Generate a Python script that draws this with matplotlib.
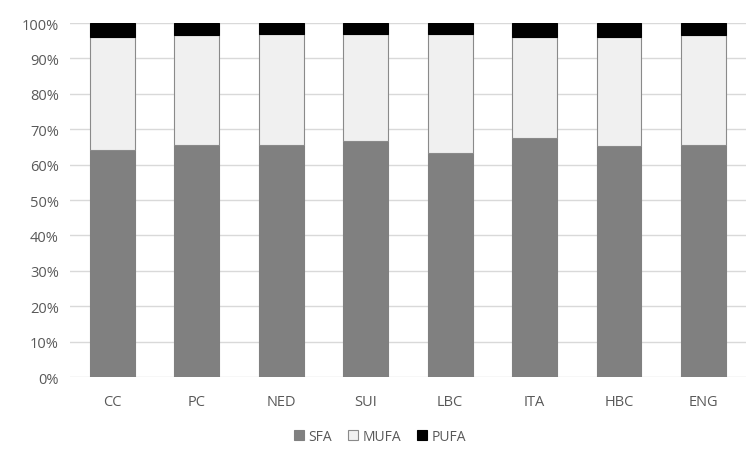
import numpy as np
from matplotlib import pyplot as plt
from matplotlib.ticker import PercentFormatter

categories = ["CC", "PC", "NED", "SUI", "LBC", "ITA", "HBC", "ENG"]
sfa = [64.1, 65.5, 65.5, 66.6, 63.3, 67.4, 65.2, 65.5]
pufa = [4.0, 3.5, 3.0, 3.0, 3.0, 4.0, 4.0, 3.5]
mufa = [100 - s - p for s, p in zip(sfa, pufa)]


def main():
    plt.rcParams['font.family'] = ['Open Sans', 'DejaVu Sans']
    text_color = "#595959"

    fig = plt.figure(figsize=(7.48, 4.52), dpi=100)
    ax = fig.add_axes([0.0936, 0.1637, 0.9034, 0.7832])

    x = np.arange(len(categories))
    w = 0.53
    b1 = ax.bar(x, sfa, w, color="#808080", edgecolor="#808080", linewidth=0.8, label="SFA", zorder=3)
    b2 = ax.bar(x, mufa, w, bottom=sfa, color="#f0f0f0", edgecolor="#8a8a8a", linewidth=0.8, label="MUFA", zorder=3)
    bottom2 = [s + m for s, m in zip(sfa, mufa)]
    b3 = ax.bar(x, pufa, w, bottom=bottom2, color="#000000", edgecolor="#000000", linewidth=0.8, label="PUFA", zorder=3)

    ax.set_xlim(-0.5, len(categories) - 0.5)
    ax.set_ylim(0, 100)
    ax.set_yticks(np.arange(0, 101, 10))
    ax.yaxis.set_major_formatter(PercentFormatter(decimals=0))
    ax.set_xticks(x)
    ax.set_xticklabels(categories)
    ax.grid(axis="y", color="#d9d9d9", linewidth=1, zorder=0)
    for s in ax.spines.values():
        s.set_visible(False)
    ax.tick_params(length=0, colors=text_color, labelsize=10.5)
    ax.tick_params(axis="x", pad=12)
    ax.tick_params(axis="y", pad=8)

    fig.legend(handles=[b1, b2, b3], loc="center", bbox_to_anchor=(0.508, 0.033), ncol=3,
               frameon=False, fontsize=10, labelcolor=text_color, handlelength=0.7,
               handleheight=0.7, handletextpad=0.3, columnspacing=1.2)

    fig.savefig("out.png", dpi=100)


if __name__ == "__main__":
    main()
